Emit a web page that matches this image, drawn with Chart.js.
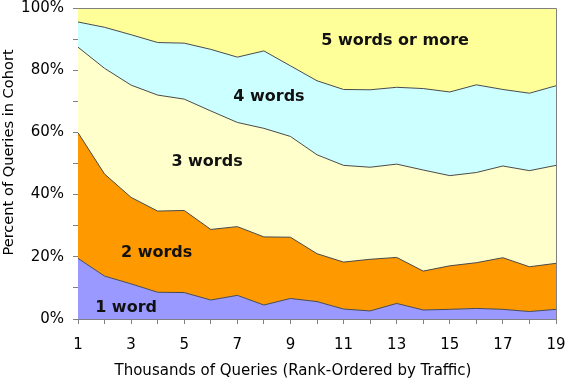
<!DOCTYPE html>
<html>
<head>
<meta charset="utf-8">
<script src="https://cdn.jsdelivr.net/npm/chart.js@4/dist/chart.umd.min.js"></script>
<style>
  html, body { margin: 0; padding: 0; background: #ffffff; }
  #wrap { width: 566px; height: 380px; }
</style>
</head>
<body>
<div id="wrap"><canvas id="c" width="566" height="380"></canvas></div>
<script>
// ---- Data (percent of queries in each cohort) ----
const categories = [1,2,3,4,5,6,7,8,9,10,11,12,13,14,15,16,17,18,19];
const oneWord   = [19.5,13.8,11.3,8.6,8.5,6.1,7.6,4.5,6.6,5.6,3.2,2.6,5.0,2.9,3.1,3.4,3.1,2.4,3.1];
const twoWords  = [40.4,32.8,27.8,26.1,26.4,22.7,22.1,21.9,19.7,15.4,15.1,16.6,14.8,12.5,14.0,14.7,16.6,14.4,14.8];
const threeWords= [27.5,34.0,36.1,37.3,35.8,38.1,33.5,34.9,32.4,31.8,31.1,29.6,30.0,32.5,29.0,29.0,29.5,30.9,31.5];
const fourWords = [8.1,13.2,16.2,16.9,18.0,19.8,21.0,24.9,22.7,23.8,24.4,24.9,24.7,26.2,26.9,28.2,24.6,24.9,25.6];
const fivePlus  = [4.5,6.2,8.6,11.1,11.3,13.3,15.8,13.8,18.6,23.4,26.2,26.3,25.5,25.9,27.0,24.7,26.2,27.4,25.0];
const seriesNames = ['1 word','2 words','3 words','4 words','5 words or more'];
const yTickLabels = ['0%','20%','40%','60%','80%','100%'];
const xTitle = 'Thousands of Queries (Rank-Ordered by Traffic)';
const yTitle = 'Percent of Queries in Cohort';

// In-chart series labels, anchored in data coordinates
const areaLabels = [
  { text: '1 word',          x: 2.81,  y: 3.5 },
  { text: '2 words',         x: 3.96,  y: 21.2 },
  { text: '3 words',         x: 5.86,  y: 50.5 },
  { text: '4 words',         x: 8.19,  y: 71.4 },
  { text: '5 words or more', x: 12.94, y: 89.4 }
];

const colors = ['#9999FF','#FF9900','#FFFFCC','#CCFFFF','#FFFF99'];
const seriesData = [oneWord, twoWords, threeWords, fourWords, fivePlus];
const FONT = '"DejaVu Sans", Verdana, sans-serif';

const datasets = seriesData.map((d, i) => ({
  label: seriesNames[i],
  data: d,
  backgroundColor: colors[i],
  borderColor: '#4a4a4a',
  borderWidth: 1,
  pointRadius: 0,
  pointHoverRadius: 0,
  tension: 0,
  fill: i === 0 ? 'origin' : '-1'
}));

const frameAndLabels = {
  id: 'frameAndLabels',
  afterDatasetsDraw(chart) {
    const { ctx, chartArea: a, scales } = chart;
    ctx.save();
    ctx.strokeStyle = '#808080';
    ctx.lineWidth = 1;
    ctx.beginPath();
    ctx.moveTo(a.left + 0.5, Math.round(a.top) + 0.5);
    ctx.lineTo(Math.round(a.right) + 0.5, Math.round(a.top) + 0.5);
    ctx.lineTo(Math.round(a.right) + 0.5, Math.round(a.bottom) + 0.5);
    ctx.stroke();
    ctx.fillStyle = '#111111';
    ctx.font = 'bold 16px ' + FONT;
    ctx.textAlign = 'center';
    ctx.textBaseline = 'middle';
    areaLabels.forEach(l => {
      const px = scales.x.getPixelForValue(l.x - 1);
      const py = scales.y.getPixelForValue(l.y);
      ctx.fillText(l.text, px, py);
    });
    // axis titles
    ctx.fillStyle = '#000000';
    ctx.font = '15px ' + FONT;
    ctx.fillText(xTitle, 293, 371);
    ctx.translate(9.5, 152.5);
    ctx.rotate(-Math.PI / 2);
    ctx.font = '14.6px ' + FONT;
    ctx.fillText(yTitle, 0, 0);
    ctx.restore();
  }
};

new Chart(document.getElementById('c'), {
  type: 'line',
  data: { labels: categories.map(String), datasets },
  options: {
    responsive: false,
    animation: false,
    devicePixelRatio: 1,
    layout: { padding: 0 },
    plugins: {
      legend: { display: false },
      tooltip: { enabled: false },
      filler: { propagate: false }
    },
    scales: {
      x: {
        type: 'category',
        offset: false,
        grid: { drawOnChartArea: false, drawTicks: true, tickLength: 5, color: '#808080' },
        border: { color: '#808080', width: 1 },
        ticks: {
          autoSkip: false, maxRotation: 0, padding: 12,
          color: '#000000',
          font: { family: FONT, size: 15 },
          callback: function (v, i) { return (i % 2 === 0) ? categories[i] : ''; }
        },
        afterFit: s => { s.height = 61; s.paddingLeft = 0; s.paddingRight = 10; }
      },
      y: {
        stacked: true,
        min: 0, max: 100,
        grid: { drawOnChartArea: false, drawTicks: true, tickLength: 5, color: '#808080' },
        border: { color: '#808080', width: 1 },
        ticks: {
          stepSize: 10, padding: 9,
          color: '#000000',
          font: { family: FONT, size: 15 },
          callback: v => (v % 20 === 0) ? yTickLabels[v / 20] : ''
        },
        afterFit: s => { s.width = 78; s.paddingTop = 8; s.paddingBottom = 0; }
      }
    }
  },
  plugins: [frameAndLabels]
});
</script>
</body>
</html>
